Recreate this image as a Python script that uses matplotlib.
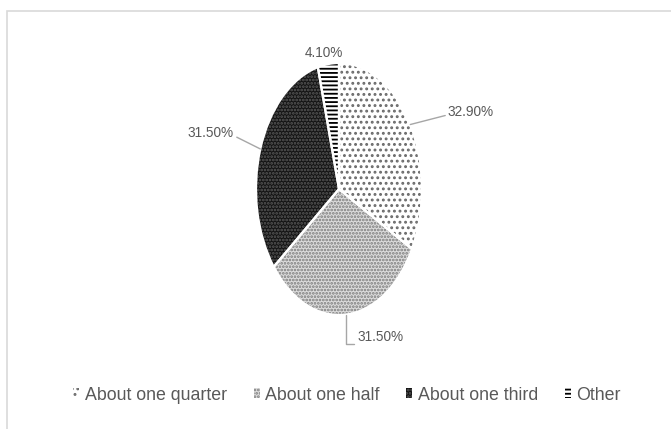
import numpy as np
import matplotlib
matplotlib.use("Agg")
import matplotlib.pyplot as plt
from matplotlib.patches import Patch, Rectangle

# ---- data ----
categories = ["About one quarter", "About one half", "About one third", "Other"]
shares = [32.90, 31.50, 31.50, 4.10]
value_labels = ["32.90%", "31.50%", "31.50%", "4.10%"]

# ---- styling ----
face_colors = ["#ffffff", "#dcdcdc", "#141414", "#ffffff"]
hatch_colors = ["#6a6a6a", "#7a7a7a", "#5a5a5a", "#000000"]
hatches = ["...", ".....", ".....", "----"]
text_color = "#595959"

FONT = ["Liberation Sans", "DejaVu Sans"]
plt.rcParams["font.family"] = FONT
plt.rcParams["hatch.linewidth"] = 1.3

W, H = 671, 429
fig = plt.figure(figsize=(W / 100, H / 100), dpi=100)

# chart area frame
fig.patches.append(Rectangle((7 / W, -0.05), 1.1, (H - 11) / H + 0.05,
                             transform=fig.transFigure, fill=False,
                             edgecolor="#d9d9d9", linewidth=1.2))

# pie axes (elliptical pie)
cx, cy, rx, ry = 339, 189, 83, 126
ax = fig.add_axes([(cx - rx) / W, (H - cy - ry) / H, 2 * rx / W, 2 * ry / H])

wedges, _ = ax.pie(shares, startangle=90, counterclock=False, radius=1,
                   colors=face_colors)
for w, hc, h in zip(wedges, hatch_colors, hatches):
    w.set_edgecolor(hc)
    w.set_linewidth(0)
    w.set_hatch(h)
# white separators between slices
ax.pie(shares, startangle=90, counterclock=False, radius=1,
       colors=["none"] * len(shares),
       wedgeprops=dict(edgecolor="white", linewidth=1.6))
ax.set_xlim(-1, 1)
ax.set_ylim(-1, 1)
ax.set_aspect("auto")
ax.axis("off")

# data labels with leader lines
def edge_point(i):
    w = wedges[i]
    mid = np.deg2rad((w.theta1 + w.theta2) / 2)
    return np.cos(mid), np.sin(mid)

lab_kw = dict(fontsize=9.8, color=text_color,
              textcoords="figure pixels", annotation_clip=False)
line_kw = dict(arrowstyle="-", color="#a6a6a6", lw=1.0, shrinkA=0, shrinkB=0)

ax.annotate(value_labels[0], xy=edge_point(0), xytext=(448, H - 112),
            ha="left", va="center",
            arrowprops=dict(relpos=(0, 0.3), **line_kw), **lab_kw)
ax.annotate(value_labels[1], xy=edge_point(1), xytext=(357, H - 337),
            ha="left", va="center",
            arrowprops=dict(relpos=(0, 0.0),
                            connectionstyle="angle,angleA=0,angleB=90,rad=0",
                            **line_kw), **lab_kw)
ax.annotate(value_labels[2], xy=edge_point(2), xytext=(234, H - 133),
            ha="right", va="center",
            arrowprops=dict(relpos=(1, 0.3), **line_kw), **lab_kw)
ax.annotate(value_labels[3], xy=edge_point(3), xytext=(324, H - 53),
            ha="center", va="center", **lab_kw)

# legend
handles = [Patch(facecolor=fc, edgecolor=hc, hatch=h, linewidth=0)
           for fc, hc, h in zip(face_colors, hatch_colors, hatches)]
leg = fig.legend(handles, categories, loc="center",
                 bbox_to_anchor=(347 / W, (H - 395) / H), ncol=4,
                 frameon=False, handlelength=0.35, handleheight=0.45,
                 handletextpad=0.3, columnspacing=1.5,
                 prop=dict(family=FONT, size=12.8))
for t in leg.get_texts():
    t.set_color(text_color)

fig.savefig("out.png", dpi=100, facecolor="white")
